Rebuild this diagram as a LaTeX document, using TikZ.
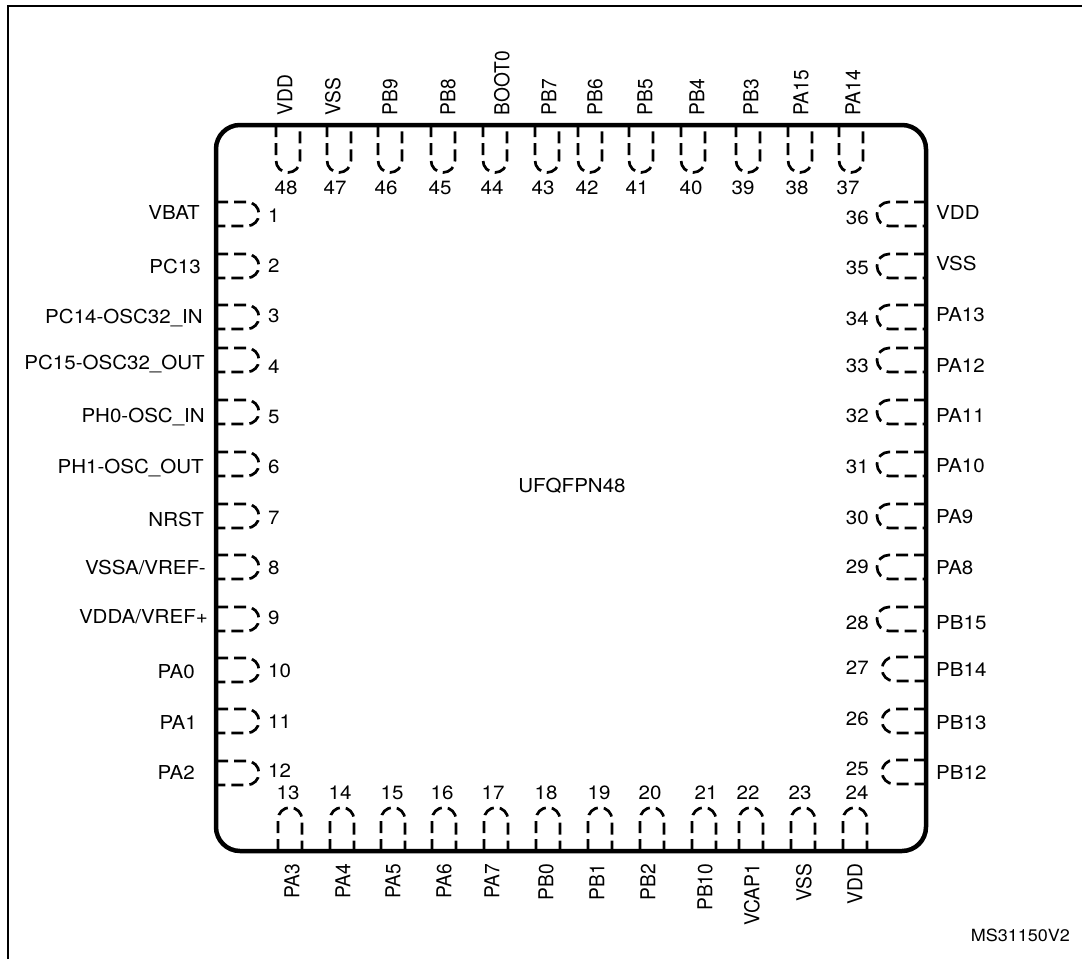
\documentclass[tikz,border=0pt]{standalone}
\usepackage{fontspec}
\setmainfont{TeX Gyre Heros}
\tikzset{
	pinlabel/.style={inner sep=0pt,text height=13.8pt,text depth=0pt,xscale=1.07,font=\fontsize{19.2}{23}\selectfont},
	pinpad/.style={line width=2.7pt,dash pattern=on 12pt off 6pt,rounded corners=12pt},
}

\begin{document}
\begin{tikzpicture}[x=1pt,y=-1pt]
			%%%%% START %%%%%
			\def\xl{216}
			\def\xr{926}
			\def\yt{125}
			\def\yb{851}
			\def\w{24}
			\useasboundingbox (0,0) rectangle (1082,959);

			\draw[line width=2.6pt] (8,959) -- (8,6) -- (1082,6);

			%%%%% top side
			\foreach \nr/\px/\numx/\lab/\labx in {48/276/286/VDD/285,47/327/335/VSS/333,46/378/386/PB9/390,45/431/440/PB8/448,44/483/492/BOOT0/502,43/535/543/PB7/549,42/578/587/PB6/595,41/629/637/PB5/645,40/681/691/PB4/697,39/736/743/PB3/751,38/788/797/PA15/801,37/839/848/PA14/853}{
				\draw[pinpad] (\px,\yt) -- (\px,172.5) -- (\px+\w,172.5) -- (\px+\w,\yt);
				\node[pinlabel] (num\nr) at (\numx,188) {\nr};
				\node[pinlabel,rotate=90,anchor=west] (pin\nr) at (\labx,115.5) {\lab};
			}

			%%%%% bottom side
			\foreach \nr/\px/\numx/\lab/\labx in {13/278/288/PA3/292,14/330/340/PA4/343,15/381/392/PA5/393,16/432/442/PA6/444,17/484/493/PA7/492,18/536/546/PB0/546,19/588/599/PB1/597,20/640/650/PB2/648,21/692/706/PB10/705,22/739/748/VCAP1/752,23/791/800/VSS/804,24/843/857/VDD/855}{
				\draw[pinpad] (\px,\yb) -- (\px,807.5) -- (\px+\w,807.5) -- (\px+\w,\yb);
				\node[pinlabel] (num\nr) at (\numx,793) {\nr};
				\node[pinlabel,rotate=90,anchor=east] (pin\nr) at (\labx,863.5) {\lab};
			}

			%%%%% left side
			\foreach \nr/\py/\numy/\lab/\labx/\laby in {1/202/216/VBAT/200/213,2/254/266/PC13/201/267,3/305/316/PC14-OSC32\_IN/203/317,4/348/367/PC15-OSC32\_OUT/205/363,5/400/417/PH0-OSC\_IN/205/416,6/452/467/PH1-OSC\_OUT/204/467,7/504/518/NRST/204/520,8/555/568/{VSSA/VREF-}/206/568,9/607/618/{VDDA/VREF+}/208/617,10/658/671/PA0/195/672,11/709/722/PA1/197/723,12/761/771/PA2/195/773}{
				\draw[pinpad] (\xl,\py) -- (259,\py) -- (259,\py+\w) -- (\xl,\py+\w);
				\node[pinlabel,anchor=west] (num\nr) at (268,\numy) {\nr};
				\node[pinlabel,anchor=east] (pin\nr) at (\labx,\laby) {\lab};
			}

			%%%%% right side
			\foreach \nr/\py/\px/\numy/\lab/\laby in {36/202/877/218/VDD/213,35/254/877/268/VSS/264,34/305/877/319/PA13/315,33/348/877/366/PA12/366,32/400/877/416/PA11/416,31/452/877/467/PA10/466,30/504/877/518/PA9/517,29/555/877/567/PA8/568,28/607/877/623/PB15/623,27/657/882/668/PB14/670,26/709/882/719/PB13/723,25/760/882/769/PB12/773}{
				\draw[pinpad] (\xr,\py) -- (\px,\py) -- (\px,\py+\w) -- (\xr,\py+\w);
				\node[pinlabel,anchor=east] (num\nr) at (869,\numy) {\nr};
				\node[pinlabel,anchor=west] (pin\nr) at (936,\laby) {\lab};
			}

			\draw[line width=4.5pt,rounded corners=24pt] (\xl,\yt) rectangle (\xr,\yb);

			\node[pinlabel] (package) at (572,486) {UFQFPN48};
			\node[pinlabel,anchor=east,font=\fontsize{16.8}{20}\selectfont] (drawingcode) at (1070,935) {MS31150V2};
			%%%%% END %%%%%
		\end{tikzpicture}
\end{document}
